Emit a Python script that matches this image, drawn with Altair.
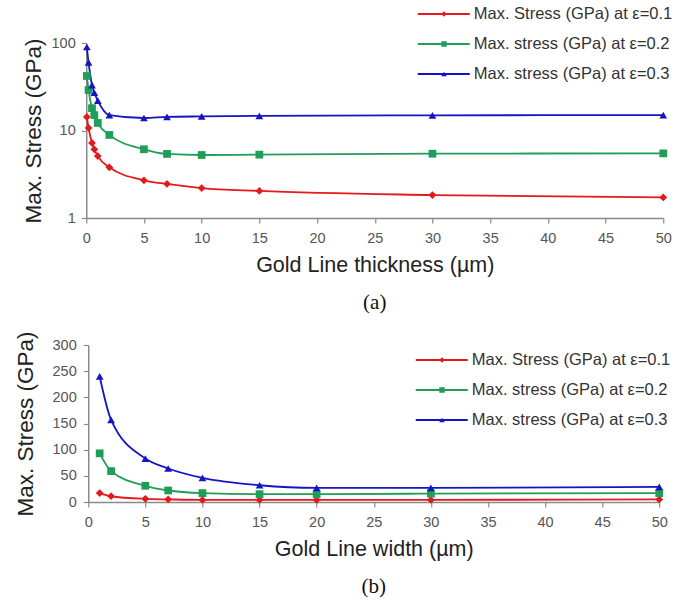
import altair as alt
import pandas as pd

# Series names, colours and marker shapes shared by both panels
names = [
    "Max. Stress (GPa) at ε=0.1",
    "Max. stress (GPa) at ε=0.2",
    "Max. stress (GPa) at ε=0.3",
]
colors = ["#E3191C", "#1E9E57", "#1414C4"]
shapes = ["diamond", "square", "triangle-up"]

# Panel (a): maximum stress vs. gold line thickness (um)
thickness = [0.05, 0.2, 0.5, 0.7, 1, 2, 5, 7, 10, 15, 30, 50]
thick_e01 = [14.3, 10.7, 7.2, 6.1, 5.1, 3.8, 2.7, 2.45, 2.2, 2.04, 1.83, 1.72]
thick_e02 = [42, 29, 18, 15, 12.2, 8.9, 6.1, 5.4, 5.25, 5.3, 5.43, 5.48]
thick_e03 = [90, 60, 33, 27, 22, 15, 13.9, 14.3, 14.5, 14.7, 14.9, 15.0]

# Panel (b): maximum stress vs. gold line width (um)
width_um = [1, 2, 5, 7, 10, 15, 20, 30, 50]
width_e01 = [17, 11, 6, 5, 4, 4, 4, 4, 5]
width_e02 = [93, 59, 31, 22, 17, 15, 15, 16, 17]
width_e03 = [240, 157, 83, 64, 46, 32, 27, 27, 29]

x_ticks = list(range(0, 51, 5))
INDEP = dict(color="independent", fill="independent", shape="independent")


def long_frame(xs, series_values):
    rows = []
    for name, vals in zip(names, series_values):
        for x, v in zip(xs, vals):
            rows.append({"x": x, "value": v, "series": name})
    return pd.DataFrame(rows)


def legend_pair(lx, ly):
    """Two stacked legends: coloured strokes with labels, and markers on top."""
    common = dict(
        orient="none", legendX=lx, legendY=ly, title=None, padding=0,
        clipHeight=15, rowPadding=13,
        labelFont="Liberation Sans", labelFontSize=16.5, labelColor="#333",
        labelLimit=400, labelOffset=3,
    )
    stroke_leg = alt.Legend(symbolType="stroke", symbolSize=2704,
                            symbolStrokeWidth=2, **common)
    marker_leg = alt.Legend(symbolSize=30, symbolStrokeWidth=0,
                            symbolOffset=19, labelExpr="''", zindex=2, **common)
    return stroke_leg, marker_leg


def panel(df, xtitle, yscale, yaxis, caption, w, h, lx, ly):
    stroke_leg, marker_leg = legend_pair(lx, ly)
    x_enc = alt.X("x:Q", title=xtitle,
                  scale=alt.Scale(domain=[0, 50], nice=False, zero=False),
                  axis=alt.Axis(values=x_ticks, labelPadding=8, titlePadding=10,
                                labelFlush=False, titleFontSize=21.5))
    y_enc = alt.Y("value:Q", title="Max. Stress (GPa)", scale=yscale, axis=yaxis)

    lines = alt.Chart(df).mark_line(interpolate="monotone", strokeWidth=1.8).encode(
        x=x_enc, y=y_enc,
        color=alt.Color("series:N", scale=alt.Scale(domain=names, range=colors),
                        legend=stroke_leg),
    )
    # marker scales take their (sorted) domain from the data field "key"
    points = alt.Chart(df).transform_calculate(key="datum.series").mark_point(
        filled=True, opacity=1, strokeWidth=0, size=60
    ).encode(
        x=x_enc, y=y_enc,
        fill=alt.Fill("key:N", scale=alt.Scale(range=colors), legend=marker_leg),
        shape=alt.Shape("key:N", scale=alt.Scale(range=shapes), legend=marker_leg),
    )
    return alt.layer(lines, points).properties(
        width=w, height=h,
        title=alt.Title(caption, orient="bottom", frame="group", anchor="middle",
                        font="Liberation Serif", fontSize=21, fontWeight="normal",
                        color="#111", offset=16),
    )


top_df = long_frame(thickness, [thick_e01, thick_e02, thick_e03])
bottom_df = long_frame(width_um, [width_e01, width_e02, width_e03])

top = panel(
    top_df, "Gold Line thickness (µm)",
    alt.Scale(type="log", domain=[1, 100], nice=False),
    alt.Axis(values=[1, 10, 100], format="d", labelPadding=6, titlePadding=6,
             titleFontSize=22.5),
    "(a)", 577, 175, 330.5, -36.5,
)
bottom = panel(
    bottom_df, "Gold Line width (µm)",
    alt.Scale(domain=[0, 300], nice=False),
    alt.Axis(values=list(range(0, 301, 50)), labelPadding=7, titlePadding=15,
             titleFontSize=22.5),
    "(b)", 571, 157, 326.5, 7.5,
)

chart = alt.vconcat(top, bottom, spacing=17, center=True).resolve_scale(
    **INDEP
).resolve_legend(**INDEP).properties(
    padding={"left": 14, "top": 6, "right": 0, "bottom": 0},
    background="white",
).configure_view(stroke=None).configure_axis(
    grid=False,
    domainColor="#8a8a8a", domainWidth=1.5,
    tickColor="#8a8a8a", tickWidth=1.2, tickSize=5,
    labelFont="Liberation Sans", labelFontSize=14.5, labelColor="#555",
    titleFont="Liberation Sans", titleFontSize=21, titleFontWeight="normal",
    titleColor="#222",
)

chart.save("out.html", embed_options={"renderer": "svg", "actions": False})
